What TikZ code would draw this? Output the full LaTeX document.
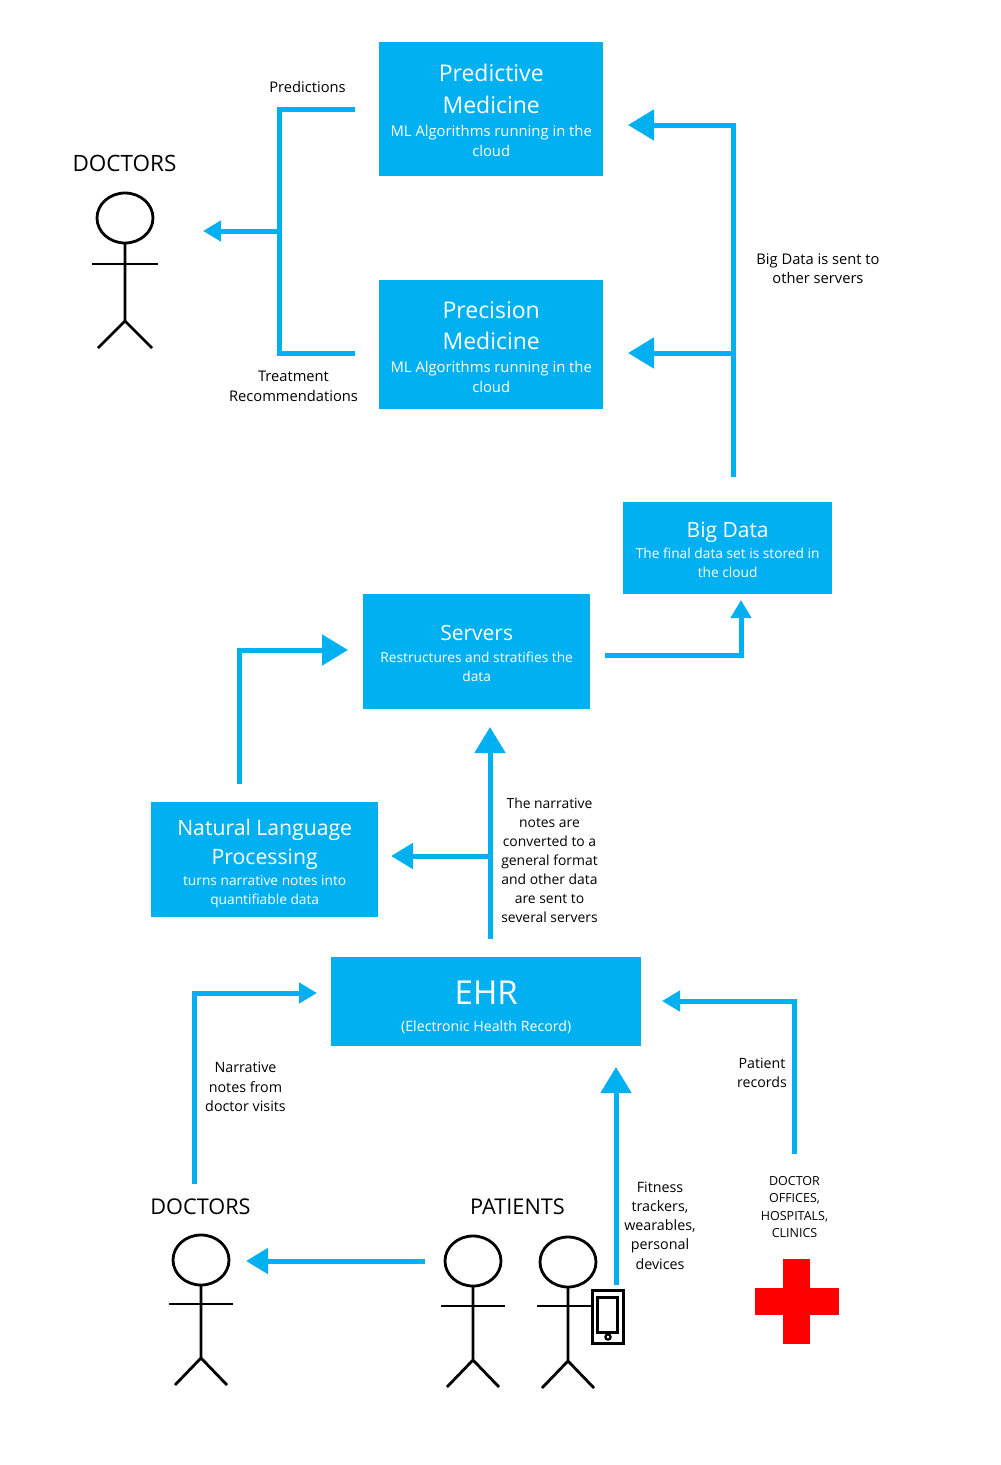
\documentclass[tikz,border=0pt]{standalone}
\usepackage{fontspec}
\setmainfont{Open Sans}
\usetikzlibrary{arrows.meta}
\definecolor{sky}{RGB}{0,176,240}
\newcommand{\fs}[2]{\fontsize{#1}{#2}\selectfont}
\newcommand{\hdg}{\fs{23}{31}}
\newcommand{\hdh}{\fs{21}{29}}
\newcommand{\sbt}{\fs{14.8}{19.5}}
\newcommand{\sbs}{\fs{13.75}{19.5}}
\newcommand{\dn}[2]{\raisebox{-#1pt}[0pt][0pt]{#2}}
\newcommand{\stick}[4]{% x, y of head centre, hip offset, leg half-width
  \draw[figline] (#1,#2) ellipse[x radius=28,y radius=25];
  \draw[figline] (#1,#2+25) -- (#1,#2+#3) (#1,#2+#3) -- (#1-#4,#2+#3+27) (#1,#2+#3) -- (#1+#4,#2+#3+27);
}
\tikzset{
  x=1pt,y=-1pt,
  figline/.style={draw=black,line width=2.8pt},
  blue box/.style={fill=sky,text=white,inner sep=0pt,align=center,anchor=north west,font=\fs{14}{19.5}},
  conn/.style={draw=sky,line width=5pt},
  big/.style={conn,-{Triangle[length=26pt,width=30pt]}},
  mid/.style={conn,-{Triangle[length=22pt,width=25pt]}},
  small/.style={conn,-{Triangle[length=18pt,width=20pt]}},
  lbl/.style={text=black,align=center,font=\fs{14.7}{19.5}},
  heading/.style={text=black,font=\fs{22.5}{28}},
}
\begin{document}
\begin{tikzpicture}
\useasboundingbox (0,0) rectangle (1001,1465);
% boxes
\node[blue box,minimum width=224pt,minimum height=134pt] (pred) at (379,42) {\dn{9.5}{\hdg Predictive}\\[11.5pt]\dn{10}{\hdg Medicine}\\[3.5pt]\dn{10}{\sbt ML Algorithms running in the}\\\dn{10.5}{\sbt cloud}};
\node[blue box,minimum width=224pt,minimum height=129pt] (prec) at (379,280) {\dn{11}{\hdg Precision}\\[11.5pt]\dn{11}{\hdg Medicine}\\[3.5pt]\dn{11}{\sbt ML Algorithms running in the}\\\dn{11}{\sbt cloud}};
\node[blue box,minimum width=209pt,minimum height=92pt] (bigd) at (623,502) {\dn{9.5}{\hdh Big Data}\\[1.5pt]\dn{10}{\sbs The final data set is stored in}\\\dn{9}{\sbs the cloud}};
\node[blue box,minimum width=227pt,minimum height=115pt] (serv) at (363,594) {\dn{9.5}{\hdh Servers}\\[1.5pt]\dn{10}{\sbs Restructures and stratifies the}\\\dn{10}{\sbs data}};
\node[blue box,minimum width=227pt,minimum height=115pt] (nlp) at (151,802) {\dn{10.5}{\fs{21.2}{29}Natural Language}\\[9.5pt]\dn{11}{\fs{21.2}{29}Processing}\\[1.5pt]\dn{11}{\sbs turns narrative notes into}\\\dn{10}{\sbs quantifiable data}};
\node[blue box,minimum width=310pt,minimum height=89pt] (ehr) at (331,957) {\dn{15.5}{\fs{33}{44}EHR}\\[5.5pt]\dn{17}{\fs{14.2}{19}(Electronic Health Record)}};
% connector coordinates
\coordinate (pa) at (355,109); \coordinate (pb) at (279,109); \coordinate (pc) at (279,353); \coordinate (pd) at (355,353);
\coordinate (pe) at (279,231); \coordinate (pf) at (203,231);
\coordinate (ba) at (733,477); \coordinate (bb) at (733,125); \coordinate (bc) at (628,125);
\coordinate (bd) at (733,353); \coordinate (be) at (628,353);
\coordinate (sa) at (605,655); \coordinate (sb) at (741,655); \coordinate (sc) at (741,600);
\coordinate (na) at (239.5,784); \coordinate (nb) at (239.5,650); \coordinate (nc) at (348,650);
\coordinate (ea) at (490,939); \coordinate (eb) at (490,727);
\coordinate (ec) at (490,856); \coordinate (ed) at (391,856);
\coordinate (da) at (194,1184); \coordinate (db) at (194,993); \coordinate (dc) at (317,993);
\coordinate (ra) at (794.5,1154); \coordinate (rb) at (794.5,1001); \coordinate (rc) at (662,1001);
\coordinate (fa) at (616,1285); \coordinate (fb) at (616,1067);
\coordinate (ga) at (425,1261); \coordinate (gb) at (246,1261);
% connectors
\draw[conn,line join=miter] (pa) -- (pb) -- (pc) -- (pd);
\draw[small] (pe) -- (pf);
\draw[big] (ba) -- (bb) -- (bc);
\draw[big] (bd) -- (be);
\draw[small] (sa) -- (sb) -- (sc);
\draw[big] (na) -- (nb) -- (nc);
\draw[big] (ea) -- (eb);
\draw[mid] (ec) -- (ed);
\draw[small] (da) -- (db) -- (dc);
\draw[small] (ra) -- (rb) -- (rc);
\draw[big] (fa) -- (fb);
\draw[mid] (ga) -- (gb);
% labels
\node[lbl] (l1) at (307.5,87) {Predictions};
\node[lbl] (l2) at (293.5,386.3) {Treatment\\Recommendations};
\node[lbl] (l3) at (818,268.5) {Big Data is sent to\\other servers};
\node[lbl,font=\fs{13.9}{19}] (l4) at (549.5,860) {The narrative\\notes are\\converted to a\\general format\\and other data\\are sent to\\several servers};
\node[lbl,font=\fs{14.3}{19.5}] (l5) at (245.5,1087) {Narrative\\notes from\\doctor visits};
\node[lbl,font=\fs{14.2}{19.5}] (l6) at (762,1073) {Patient\\records};
\node[lbl,font=\fs{14.3}{19.3}] (l7) at (660,1225.5) {Fitness\\trackers,\\wearables,\\personal\\devices};
\node[lbl,font=\fs{12.5}{17.4}] (l8) at (794.5,1207) {DOCTOR\\OFFICES,\\HOSPITALS,\\CLINICS};
\node[heading] (h1) at (124.5,163) {DOCTORS};
\node[heading,font=\fs{21.7}{28}] (h2) at (200.5,1207) {DOCTORS};
\node[heading,font=\fs{21.7}{28}] (h3) at (517.5,1207) {PATIENTS};
% figures
\stick{125}{218}{103}{27}
\draw[figline] (92,264) -- (158,264);
\stick{201}{1260}{98}{26}
\draw[figline] (169,1304) -- (233,1304);
\stick{473}{1261}{99}{26}
\draw[figline] (441,1306) -- (505,1306);
\stick{568}{1262}{99}{26}
\draw[figline] (537,1306) -- (592,1306);
% phone
\draw[figline,line width=3pt] (592,1290) rectangle (623,1343);
\draw[figline,line width=3pt] (597,1297) rectangle (617,1332);
\draw[line width=2.2pt] (608,1337) circle[radius=2.6];
% red cross
\fill[red] (783,1259) rectangle (810,1344);
\fill[red] (755,1288) rectangle (839,1315);
\end{tikzpicture}
\end{document}
